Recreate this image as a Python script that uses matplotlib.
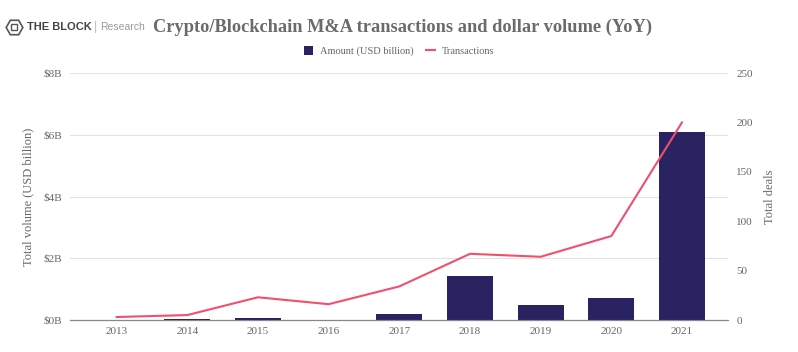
import numpy as np
import matplotlib.pyplot as plt
from matplotlib.lines import Line2D

years = ['2013', '2014', '2015', '2016', '2017', '2018', '2019', '2020', '2021']
amount_busd = [0.0, 0.03, 0.05, 0.01, 0.18, 1.43, 0.49, 0.70, 6.08]
transactions = [3, 5, 23, 16, 34, 67, 64, 85, 200]
left_ticks = [0, 2, 4, 6, 8]
left_labels = ['$0B', '$2B', '$4B', '$6B', '$8B']
right_ticks = [0, 50, 100, 150, 200, 250]

bar_color = '#2a2361'
line_color = '#f0506e'
text_color = '#666666'
serif = ['Liberation Serif', 'DejaVu Serif']
sans = ['Liberation Sans', 'DejaVu Sans']

W, H = 798, 352
fig = plt.figure(figsize=(W / 100, H / 100), dpi=100)
ax = fig.add_axes([0.0877, 0.0909, 0.8245, 0.7017])
ax2 = ax.twinx()

x = np.arange(len(years))
ax.bar(x, amount_busd, width=0.65, color=bar_color, zorder=3, label='Amount (USD billion)')
ax2.plot(x, transactions, color=line_color, lw=1.5, zorder=4, label='Transactions')

ax.set_xlim(-0.66, len(years) - 0.35)
ax.set_ylim(0, 8)
ax2.set_ylim(0, 250)
ax.set_yticks(left_ticks)
ax.set_yticklabels(left_labels)
ax2.set_yticks(right_ticks)
ax.set_xticks(x)
ax.set_xticklabels(years)

ax.grid(axis='y', color='#e2e2e2', lw=0.8, zorder=0)
for a in (ax, ax2):
    for s in ['top', 'left', 'right']:
        a.spines[s].set_visible(False)
    a.spines['bottom'].set_color('#888888')
    a.tick_params(length=0, labelsize=8, labelcolor=text_color)
    for lab in a.get_xticklabels() + a.get_yticklabels():
        lab.set_family(serif)
ax.tick_params(axis='y', pad=6)
ax2.tick_params(axis='y', pad=6)
ax.tick_params(axis='x', pad=5)

ax.set_ylabel('Total volume (USD billion)', fontsize=9, color=text_color, family=serif, labelpad=6)
ax2.set_ylabel('Total deals', fontsize=9, color=text_color, family=serif, labelpad=8)

# legend
h1, l1 = ax.get_legend_handles_labels()
h2, l2 = ax2.get_legend_handles_labels()
fig.legend(h1 + h2, l1 + l2, loc='center', bbox_to_anchor=(0.5, 1 - 51 / H), ncol=2, frameon=False,
           prop={'family': serif, 'size': 7.5}, labelcolor=text_color, handlelength=0.9,
           handleheight=0.9, columnspacing=1.2, handletextpad=0.6)

# header
hy = 1 - 27 / H
fig.add_artist(Line2D([14 / W], [hy], marker='H', markersize=12, mfc='none', mec='#555555',
                      mew=1.2, transform=fig.transFigure))
fig.add_artist(Line2D([14 / W], [hy], marker='s', markersize=5, mfc='none', mec='#555555',
                      mew=1.0, transform=fig.transFigure))
fig.text(27 / W, hy, 'THE BLOCK', fontsize=8, fontweight='bold', color='#444444',
         ha='left', va='center', family=sans)
fig.text(94 / W, hy, '|', fontsize=9, color='#bbbbbb', ha='left', va='center', family=sans)
fig.text(100 / W, hy, 'Research', fontsize=7.5, color='#999999', ha='left', va='center', family=sans)
fig.text(153 / W, hy, 'Crypto/Blockchain M&A transactions and dollar volume (YoY)', fontsize=13.2,
         fontweight='bold', color='#6b6b6b', ha='left', va='center', family=serif)

fig.savefig('out.png', dpi=100, facecolor='white')
